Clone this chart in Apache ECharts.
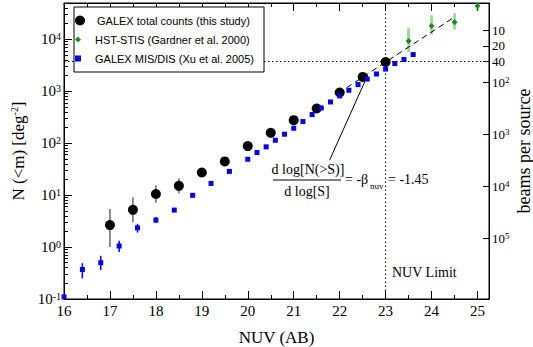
<!DOCTYPE html>
<html>
<head>
<meta charset="utf-8">
<script src="https://cdn.jsdelivr.net/npm/echarts@6.0.0/dist/echarts.min.js"></script>
<style>
  html, body { margin: 0; padding: 0; background: #fff; }
  #chart { width: 533px; height: 347px; }
</style>
</head>
<body>
<div id="chart"></div>
<script>
// GALEX total counts (this study)
var galexMag = [17, 17.5, 18, 18.5, 19, 19.5, 20, 20.5, 21, 21.5, 22, 22.5, 23];
var galexN   = [2.65, 5.2, 10.5, 15.1, 27.3, 44.5, 88, 158, 277, 465, 945, 1885, 3660];
var galexLo  = [1.0, 3.0, 7.1, 10.7, 24, 40, 80, 145, 262, 445, 905, 1810, 3520];
var galexHi  = [5.4, 9.1, 15.5, 21, 31, 49, 96, 172, 293, 487, 985, 1960, 3800];

// HST-STIS (Gardner et al. 2000)
var hstMag = [23.5, 24, 24.5, 25];
var hstN   = [9270, 18000, 21200, 43600];
var hstLo  = [5700, 12300, 15400, 36000];
var hstHi  = [16800, 29000, 32000, 60000];

// GALEX MIS/DIS (Xu et al. 2005)
var misMag = [16.0, 16.4, 16.8, 17.2, 17.6, 18.0, 18.4, 18.8, 19.2, 19.6, 20.0,
              20.2, 20.4, 20.6, 20.8, 21.0, 21.2, 21.4, 21.6, 21.8, 22.0,
              22.2, 22.4, 22.6, 22.8, 23.0, 23.2, 23.4, 23.6];
var misN   = [0.11, 0.37, 0.50, 1.05, 2.35, 3.3, 5.15, 9.9, 16.8, 28.6, 49,
              66, 85, 114, 149, 194, 261, 356, 477, 622, 813,
              1045, 1343, 1720, 2150, 2670, 3410, 4075, 5080];
var misErrMag = [16.4, 16.8, 17.2, 17.6, 18.0];
var misErrLo  = [0.25, 0.36, 0.80, 1.9, 2.9];
var misErrHi  = [0.49, 0.68, 1.32, 2.8, 3.8];

// slope fit and pointer to the annotation
var fitMag = [22.15, 24.5];
var fitN   = [1170, 26900];
var ptrMag = [22.61, 21.78];
var ptrN   = [2040, 47];

// axes
var xTicks = [16, 17, 18, 19, 20, 21, 22, 23, 24, 25];
var xMinor = [16.5, 17.5, 18.5, 19.5, 20.5, 21.5, 22.5, 23.5, 24.5];
var yTicks = [0.1, 1, 10, 100, 1000, 10000];
var beamTicks = [10, 20, 40, 100, 1000, 10000, 100000];
var nMin = 0.1, nMax = 50000;
var beamConst = 1.49e5;   // beams per source = beamConst / N
var limitMag = 23, limitBeams = 40;

var yMinor = [];
for (var k = -1; k <= 4; k++) {
  for (var j = 2; j <= 9; j++) {
    var v = j * Math.pow(10, k);
    if (v < nMax) yMinor.push(v);
  }
}

var serif = 'Liberation Serif';
var supRich = {
  sup: { fontSize: 10, fontFamily: serif, color: '#000', verticalAlign: 'top', padding: [0, 0, 6, 0] }
};
function powLabel(v) {
  var e = Math.round(Math.log10(v));
  return '10{sup|' + e + '}';
}

function errorBars(width) {
  return function (params, api) {
    var x = api.value(0);
    var a = api.coord([x, api.value(1)]);
    var b = api.coord([x, api.value(2)]);
    return {
      type: 'line',
      shape: { x1: a[0], y1: a[1], x2: b[0], y2: b[1] },
      style: { stroke: api.visual('color'), lineWidth: width }
    };
  };
}

var legendText = { fontFamily: 'Liberation Sans', fontSize: 11, color: '#000' };

var chart = echarts.init(document.getElementById('chart'), null, { renderer: 'svg' });

var option = {
  animation: false,
  backgroundColor: '#fff',
  grid: {
    left: 64, right: 44, top: 3, bottom: 48, containLabel: false, outerBoundsMode: 'none',
    show: true, borderColor: '#000', borderWidth: 1
  },
  xAxis: [
    {
      type: 'value', min: 16, max: 25.25, position: 'bottom',
      axisLine: { lineStyle: { color: '#000' } },
      axisTick: { inside: true, length: 8, customValues: xTicks, lineStyle: { color: '#000' } },
      axisLabel: { customValues: xTicks, fontFamily: serif, fontSize: 15, color: '#000', margin: 4 },
      splitLine: { show: false },
      name: 'NUV (AB)', nameLocation: 'middle', nameGap: 30,
      nameTextStyle: { fontFamily: serif, fontSize: 17, color: '#000' }
    },
    {
      type: 'value', min: 16, max: 25.25, position: 'bottom',
      axisLine: { show: false },
      axisTick: { inside: true, length: 4, customValues: xMinor, lineStyle: { color: '#000' } },
      axisLabel: { show: false }, splitLine: { show: false }
    },
    {
      type: 'value', min: 16, max: 25.25, position: 'top',
      axisLine: { lineStyle: { color: '#000' } },
      axisTick: { inside: true, length: 8, customValues: xTicks, lineStyle: { color: '#000' } },
      axisLabel: { show: false }, splitLine: { show: false }
    },
    {
      type: 'value', min: 16, max: 25.25, position: 'top',
      axisLine: { show: false },
      axisTick: { inside: true, length: 4, customValues: xMinor, lineStyle: { color: '#000' } },
      axisLabel: { show: false }, splitLine: { show: false }
    }
  ],
  yAxis: [
    {
      type: 'log', logBase: 10, min: nMin, max: nMax, position: 'left',
      axisLine: { show: true, lineStyle: { color: '#000' } },
      axisTick: { inside: true, length: 8, customValues: yTicks, lineStyle: { color: '#000' } },
      axisLabel: {
        customValues: yTicks, formatter: powLabel, margin: 3,
        fontFamily: serif, fontSize: 15, color: '#000', rich: supRich
      },
      splitLine: { show: false },
      name: 'N (<m) [deg{sup|-2}]', nameLocation: 'middle', nameGap: 37, nameRotate: 90,
      nameTextStyle: { fontFamily: serif, fontSize: 17, color: '#000', rich: supRich }
    },
    {
      type: 'log', logBase: 10, min: nMin, max: nMax, position: 'left',
      axisLine: { show: false },
      axisTick: { inside: true, length: 4, customValues: yMinor, lineStyle: { color: '#000' } },
      axisLabel: { show: false }, splitLine: { show: false }
    },
    {
      type: 'log', logBase: 10, min: beamConst / nMax, max: beamConst / nMin,
      inverse: true, position: 'right',
      axisLine: { show: true, lineStyle: { color: '#000' } },
      axisTick: { inside: true, length: 6, customValues: beamTicks, lineStyle: { color: '#000' } },
      axisLabel: {
        customValues: beamTicks, margin: 3,
        formatter: function (v) { return v < 100 ? String(Math.round(v)) : powLabel(v); },
        fontFamily: serif, fontSize: 13, color: '#000',
        rich: { sup: { fontSize: 9, fontFamily: serif, color: '#000', verticalAlign: 'top', padding: [0, 0, 5, 0] } }
      },
      splitLine: { show: false },
      name: 'beams per source', nameLocation: 'middle', nameGap: 26, nameRotate: 90,
      nameMoveOverlap: false,
      nameTextStyle: { fontFamily: serif, fontSize: 18, color: '#000' }
    }
  ],
  legend: [
    {
      data: ['GALEX total counts (this study)'], left: 75, top: 15,
      itemWidth: 24, itemHeight: 10, padding: 0, selectedMode: false, z: 10,
      textStyle: legendText
    },
    {
      data: [{ name: 'HST-STIS (Gardner et al. 2000)', icon: 'path://M1,0L2,1L1,2L0,1Z' }],
      left: 75, top: 34, symbolKeepAspect: true,
      itemWidth: 24, itemHeight: 6, padding: 0, selectedMode: false, z: 10,
      textStyle: legendText
    },
    {
      data: [{ name: 'GALEX MIS/DIS (Xu et al. 2005)', icon: 'path://M0,0L1,0L1,1L0,1Z' }],
      left: 75, top: 53, symbolKeepAspect: true,
      itemWidth: 24, itemHeight: 6, padding: 0, selectedMode: false, z: 10,
      textStyle: legendText
    }
  ],
  graphic: [
    {
      type: 'rect', z: 8,
      shape: { x: 74, y: 7, width: 190, height: 65 },
      style: { fill: '#fff', stroke: '#000', lineWidth: 1 }
    },
    {
      type: 'text', x: 308, y: 169,
      style: { text: 'd log[N(>S)]', fontFamily: serif, fontSize: 14, fill: '#000', align: 'center', verticalAlign: 'middle' }
    },
    {
      type: 'line', shape: { x1: 273, y1: 180, x2: 341, y2: 180 },
      style: { stroke: '#000', lineWidth: 1 }
    },
    {
      type: 'text', x: 307, y: 191,
      style: { text: 'd log[S]', fontFamily: serif, fontSize: 14, fill: '#000', align: 'center', verticalAlign: 'middle' }
    },
    {
      type: 'text', x: 345, y: 179,
      style: { text: '= -β', fontFamily: serif, fontSize: 14, fill: '#000', align: 'left', verticalAlign: 'middle' }
    },
    {
      type: 'text', x: 370, y: 186,
      style: { text: 'nuv', fontFamily: serif, fontSize: 9, fill: '#000', align: 'left', verticalAlign: 'middle' }
    },
    {
      type: 'text', x: 388, y: 179,
      style: { text: '= -1.45', fontFamily: serif, fontSize: 14, fill: '#000', align: 'left', verticalAlign: 'middle' }
    },
    {
      type: 'text', x: 392, y: 272,
      style: { text: 'NUV Limit', fontFamily: serif, fontSize: 14, fill: '#000', align: 'left', verticalAlign: 'middle' }
    }
  ],
  series: [
    {
      type: 'custom', clip: true, renderItem: errorBars(1.2),
      itemStyle: { color: '#444' }, encode: { x: 0, y: [1, 2] },
      data: galexMag.map(function (m, i) { return [m, galexLo[i], galexHi[i]]; }), z: 1
    },
    {
      type: 'custom', clip: true, renderItem: errorBars(3),
      itemStyle: { color: 'rgba(80,190,80,0.55)' }, encode: { x: 0, y: [1, 2] },
      data: hstMag.map(function (m, i) { return [m, hstLo[i], hstHi[i]]; }), z: 1
    },
    {
      type: 'custom', clip: true, renderItem: errorBars(1.5),
      itemStyle: { color: '#0000ff' }, encode: { x: 0, y: [1, 2] },
      data: misErrMag.map(function (m, i) { return [m, misErrLo[i], misErrHi[i]]; }), z: 1
    },
    {
      type: 'line', symbol: 'none', silent: true,
      lineStyle: { color: '#000', width: 1, type: [6, 4] },
      data: fitMag.map(function (m, i) { return [m, fitN[i]]; }), z: 2
    },
    {
      type: 'line', symbol: 'none', silent: true,
      lineStyle: { color: '#000', width: 1 },
      data: ptrMag.map(function (m, i) { return [m, ptrN[i]]; }), z: 2,
      markLine: {
        silent: true, symbol: 'none', label: { show: false }, z: 2,
        lineStyle: { color: '#000', width: 1, type: [1.5, 2.5] },
        data: [{ xAxis: limitMag }, { yAxis: beamConst / limitBeams }]
      }
    },
    {
      name: 'GALEX total counts (this study)', type: 'scatter', symbol: 'circle', symbolSize: 10,
      itemStyle: { color: '#000', opacity: 1 }, z: 3,
      data: galexMag.map(function (m, i) { return [m, galexN[i]]; })
    },
    {
      name: 'HST-STIS (Gardner et al. 2000)', type: 'scatter', symbol: 'diamond', symbolSize: 6,
      itemStyle: { color: '#159015', opacity: 1 }, z: 3,
      data: hstMag.map(function (m, i) { return [m, hstN[i]]; })
    },
    {
      name: 'GALEX MIS/DIS (Xu et al. 2005)', type: 'scatter', symbol: 'rect', symbolSize: 5,
      itemStyle: { color: '#0000ff', opacity: 1 }, z: 4,
      data: misMag.map(function (m, i) { return [m, misN[i]]; })
    }
  ]
};

chart.setOption(option);
</script>
</body>
</html>
